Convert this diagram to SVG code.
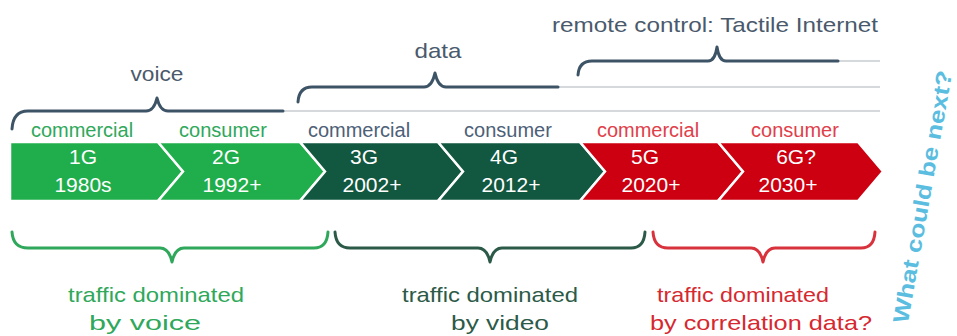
<svg xmlns="http://www.w3.org/2000/svg" width="957" height="336" viewBox="0 0 957 336">
<style>
text{font-family:"Liberation Sans",Arial,sans-serif}
.blk{stroke:#fff;stroke-width:2.5;stroke-linejoin:miter}
.g1{fill:#1fae4b}.g2{fill:#12573f}.g3{fill:#cc0010}
.bt{fill:#fff;font-size:21px;text-anchor:middle}
.lab{font-size:20px;text-anchor:middle}
.lg{fill:#2fa85b}.ls{fill:#4d6078}.lr{fill:#e0404a}
.br{fill:none;stroke-width:3;stroke-linecap:round;stroke-linejoin:round}
.thin{fill:none;stroke:#c9cdd1;stroke-width:1.5}
.top{fill:#4a5a6c;font-size:21px;text-anchor:middle}
.bot{font-size:21px;text-anchor:middle}
</style>
<rect width="957" height="336" fill="#fff"/>
<g id="connectors">
  <path class="thin" d="M283,111 L880,111 M558,87 L880,87 M838,61 L880,61"/>
  <path id="brace-voice" class="br" stroke="#3d5366" d="M12,129 Q13,111 28,111 L146,111 Q154,111 157,98 Q160,111 168,111 L283,111"/>
  <path id="brace-data" class="br" stroke="#3d5366" d="M298,102 Q299,87 312,87 L424,87 Q432,87 435,73 Q438,87 446,87 L558,87"/>
  <path id="brace-tactile" class="br" stroke="#3d5366" d="M578,75 Q579,61 592,61 L708,61 Q715,61 717,47 Q719,61 726,61 L838,61"/>
  <path id="brace-voice-traffic" class="br" stroke="#2fa85b" d="M12,232 Q13,248 28,248 L160,248 Q169,248 172,262 Q175,248 184,248 L314,248 Q327,248 328,232"/>
  <path id="brace-video-traffic" class="br" stroke="#2c5a48" d="M335,232 Q336,248 350,248 L478,248 Q487,248 490,262 Q493,248 502,248 L631,248 Q644,248 645,232"/>
  <path id="brace-corr-traffic" class="br" stroke="#d8323c" d="M653,232 Q654,248 668,248 L751,248 Q760,248 763,262 Q766,248 775,248 L861,248 Q874,248 875,232"/>
</g>
<g id="label-voice"><text class="top" x="157" y="81" textLength="53" lengthAdjust="spacingAndGlyphs">voice</text></g>
<g id="label-data"><text class="top" x="438" y="58" textLength="47" lengthAdjust="spacingAndGlyphs">data</text></g>
<g id="label-tactile"><text class="top" x="715" y="32" textLength="326" lengthAdjust="spacingAndGlyphs">remote control: Tactile Internet</text></g>
<g id="node-1G">
  <polygon class="blk g1" points="10,142 158,142 183,171.5 158,201 10,201"/>
  <text class="lab lg" x="82" y="137">commercial</text>
  <text class="bt" x="83" y="164">1G</text>
  <text class="bt" x="83" y="192">1980s</text>
</g>
<g id="node-2G">
  <polygon class="blk g1" points="158,142 300,142 325,171.5 300,201 158,201 183,171.5"/>
  <text class="lab lg" x="223" y="137">consumer</text>
  <text class="bt" x="226" y="164">2G</text>
  <text class="bt" x="232" y="192">1992+</text>
</g>
<g id="node-3G">
  <polygon class="blk g2" points="300,142 438,142 463,171.5 438,201 300,201 325,171.5"/>
  <text class="lab ls" x="359" y="137">commercial</text>
  <text class="bt" x="364" y="164">3G</text>
  <text class="bt" x="372" y="192">2002+</text>
</g>
<g id="node-4G">
  <polygon class="blk g2" points="438,142 580,142 605,171.5 580,201 438,201 463,171.5"/>
  <text class="lab ls" x="508" y="137">consumer</text>
  <text class="bt" x="504" y="164">4G</text>
  <text class="bt" x="511" y="192">2012+</text>
</g>
<g id="node-5G">
  <polygon class="blk g3" points="580,142 718,142 743,171.5 718,201 580,201 605,171.5"/>
  <text class="lab lr" x="648" y="137">commercial</text>
  <text class="bt" x="645" y="164">5G</text>
  <text class="bt" x="651" y="192">2020+</text>
</g>
<g id="node-6G">
  <polygon class="blk g3" points="718,142 858,142 883,171.5 858,201 718,201 743,171.5"/>
  <text class="lab lr" x="795" y="137">consumer</text>
  <text class="bt" x="796" y="164">6G?</text>
  <text class="bt" x="788" y="192">2030+</text>
</g>
<g id="label-traffic-voice">
  <text class="bot" fill="#2fa85b" x="156" y="302" textLength="176" lengthAdjust="spacingAndGlyphs">traffic dominated</text>
  <text class="bot" fill="#2fa85b" x="145" y="330" textLength="112" lengthAdjust="spacingAndGlyphs">by voice</text>
</g>
<g id="label-traffic-video">
  <text class="bot" fill="#2c5a48" x="490" y="302" textLength="176" lengthAdjust="spacingAndGlyphs">traffic dominated</text>
  <text class="bot" fill="#2c5a48" x="500" y="330" textLength="98" lengthAdjust="spacingAndGlyphs">by video</text>
</g>
<g id="label-traffic-corr">
  <text class="bot" fill="#d62830" x="743" y="302" textLength="172" lengthAdjust="spacingAndGlyphs">traffic dominated</text>
  <text class="bot" fill="#d62830" x="761" y="330" textLength="222" lengthAdjust="spacingAndGlyphs">by correlation data?</text>
</g>
<g id="label-next">
  <text transform="translate(930,198) rotate(-80)" x="0" y="0" fill="#5bbde0" font-size="22" font-weight="bold" text-anchor="middle" textLength="256" lengthAdjust="spacingAndGlyphs">What could be next?</text>
</g>
</svg>
